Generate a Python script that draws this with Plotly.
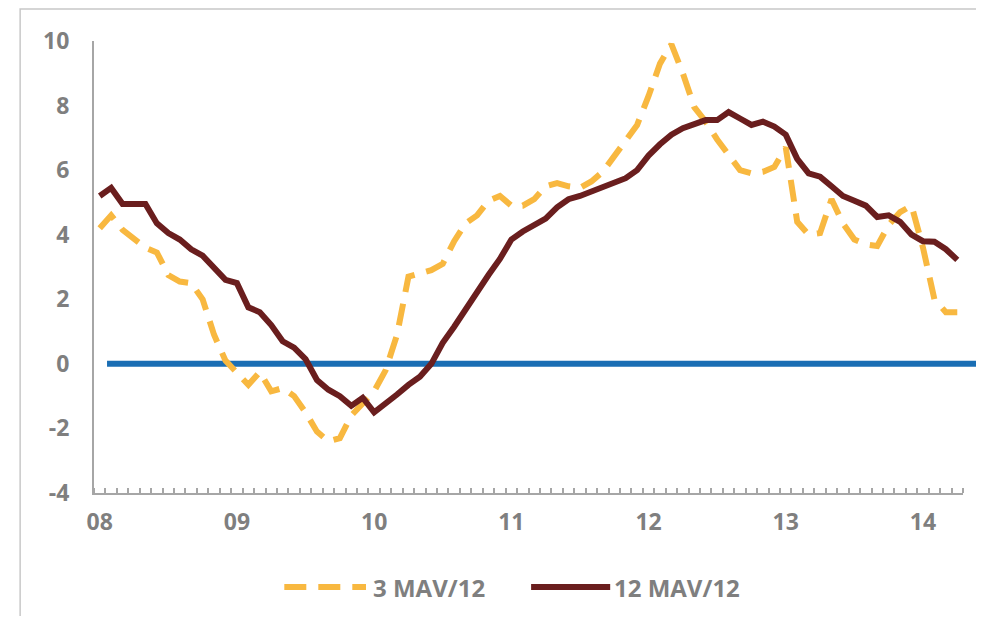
import plotly.graph_objects as go

# monthly values, Jan 2008 - Apr 2014
mav3 = [4.2, 4.6, 4.15, 3.9, 3.6, 3.45, 2.75, 2.55, 2.5, 2.0,
        0.9, 0.1, -0.3, -0.65, -0.25, -0.85, -0.75, -1.0, -1.5, -2.1,
        -2.4, -2.3, -1.6, -1.25, -0.85, -0.2, 0.9, 2.7, 2.8, 2.9,
        3.1, 3.8, 4.35, 4.6, 5.05, 5.2, 4.9, 4.9, 5.1, 5.5,
        5.6, 5.5, 5.45, 5.65, 5.95, 6.45, 6.95, 7.4, 8.3, 9.3,
        9.9, 9.0, 7.95, 7.5, 6.95, 6.5, 6.0, 5.9, 5.95, 6.1,
        6.7, 4.4, 4.0, 4.05, 5.1, 4.35, 3.85, 3.7, 3.65, 4.3,
        4.7, 4.9, 3.6, 2.0, 1.6, 1.6]
mav12 = [5.2, 5.45, 4.95, 4.95, 4.95, 4.35, 4.05, 3.85, 3.55, 3.35,
         2.95, 2.6, 2.5, 1.75, 1.6, 1.2, 0.7, 0.5, 0.15, -0.5,
         -0.8, -1.0, -1.3, -1.05, -1.5, -1.25, -0.95, -0.65, -0.4, 0.0,
         0.65, 1.15, 1.7, 2.2, 2.75, 3.25, 3.85, 4.1, 4.3, 4.5,
         4.85, 5.1, 5.2, 5.35, 5.5, 5.6, 5.75, 6.0, 6.45, 6.8,
         7.1, 7.3, 7.45, 7.55, 7.55, 7.8, 7.6, 7.4, 7.5, 7.35,
         7.1, 6.35, 5.9, 5.8, 5.5, 5.2, 5.05, 4.9, 4.55, 4.6,
         4.4, 4.0, 3.8, 3.78, 3.55, 3.22]
year_labels = ["08", "09", "10", "11", "12", "13", "14"]
year_pos = [0, 12, 24, 36, 48, 60, 72]
y_ticks = [-4, -2, 0, 2, 4, 6, 8, 10]
y_labels = ["-4", "-2", "0", "2", "4", "6", "8", "10"]

months = list(range(len(mav3)))

YELLOW = "#F8B840"
BROWN = "#6A1E1E"
BLUE = "#1A6EB4"
GREY = "#7f7f7f"
AXIS = "#a6a6a6"

fig = go.Figure()

fig.add_trace(go.Scatter(
    x=months, y=mav3, mode="lines", name="3 MAV/12",
    line=dict(color=YELLOW, width=6, dash="22px,12px"),
    showlegend=False
))
fig.add_trace(go.Scatter(
    x=months, y=mav12, mode="lines", name="12 MAV/12",
    line=dict(color=BROWN, width=6),
    showlegend=False
))

# zero line, runs past the plot edge like the original
fig.add_shape(type="line", xref="paper", yref="y", x0=0.015, x1=1.05, y0=0, y1=0,
              line=dict(color=BLUE, width=6), layer="below")

# outer chart frame
fig.add_shape(type="rect", xref="paper", yref="paper", x0=-0.085, x1=1.1,
              y0=-0.4, y1=1.071, line=dict(color="#c8c8c8", width=1.5), layer="below")

# hand-made legend (long line samples)
fig.add_shape(type="line", xref="paper", yref="paper", x0=0.219, x1=0.313,
              y0=-0.208, y1=-0.208, line=dict(color=YELLOW, width=6, dash="22px,12px"))
fig.add_shape(type="line", xref="paper", yref="paper", x0=0.503, x1=0.594,
              y0=-0.208, y1=-0.208, line=dict(color=BROWN, width=6))
fig.add_annotation(text="3 MAV/12", xref="paper", yref="paper", x=0.319, y=-0.208,
                   xanchor="left", yanchor="middle", showarrow=False,
                   font=dict(size=24, color=GREY, family="Open Sans", weight="bold"))
fig.add_annotation(text="12 MAV/12", xref="paper", yref="paper", x=0.596, y=-0.208,
                   xanchor="left", yanchor="middle", showarrow=False,
                   font=dict(size=24, color=GREY, family="Open Sans", weight="bold"))

fig.update_layout(
    width=968, height=608,
    margin={'l': 86, 'r': 13, 't': 33, 'b': 123},
    paper_bgcolor="white",
    plot_bgcolor="white",
    font=dict(family="Open Sans", size=23, color=GREY, weight="bold"),
    showlegend=False,
    xaxis=dict(
        range=[-0.5, len(mav3) - 0.5],
        tickmode="array", tickvals=year_pos, ticktext=year_labels,
        ticks="", showgrid=False, zeroline=False,
        showline=True, linecolor=AXIS, linewidth=2,
        ticklabelstandoff=7,
        minor=dict(ticks="inside", tick0=-0.5, dtick=1, ticklen=5,
                   tickcolor=AXIS, tickwidth=1.5, showgrid=False)
    ),
    yaxis=dict(
        range=[-4, 10], tickmode="array", tickvals=y_ticks, ticktext=y_labels,
        ticks="", showgrid=False, zeroline=False,
        showline=True, linecolor=AXIS, linewidth=2,
        ticklabelstandoff=18
    )
)

fig.write_html("out.html")
